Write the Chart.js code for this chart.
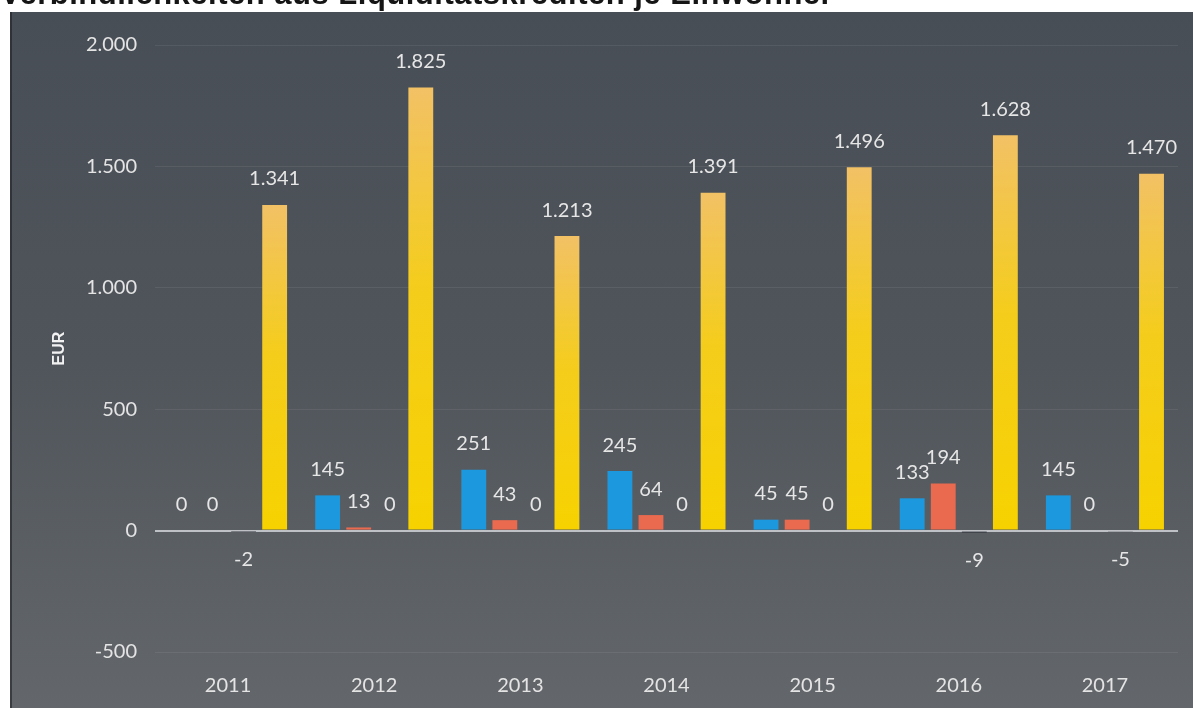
<!DOCTYPE html>
<html>
<head>
<meta charset="utf-8">
<script src="https://cdn.jsdelivr.net/npm/chart.js@4.4.1/dist/chart.umd.min.js"></script>
<style>
  html, body { margin: 0; padding: 0; background: #ffffff; overflow: hidden; }
  #wrap { position: relative; width: 1193px; height: 708px; }
  #title { position: absolute; left: 0px; top: -22px; font: bold 31px "Liberation Sans", Arial, sans-serif; line-height: 31px; letter-spacing: 0.5px; color: #151515; white-space: nowrap; z-index: 2; }
  canvas { position: absolute; left: 0; top: 0; }
</style>
</head>
<body>
<div id="wrap">
  <div id="title">Verbindlichkeiten aus Liquiditätskrediten je Einwohner</div>
  <canvas id="c" width="1193" height="708"></canvas>
</div>
<script>
const categories = ['2011', '2012', '2013', '2014', '2015', '2016', '2017'];
const blueValues = [0, 145, 251, 245, 45, 133, 145];
const redValues = [0, 13, 43, 64, 45, 194, 0];
const darkValues = [-2, 0, 0, 0, 0, -9, -5];
const yellowValues = [1341, 1825, 1213, 1391, 1496, 1628, 1470];
const yMin = -500;
const yMax = 2000;
const yStep = 500;
const yAxisTitle = 'EUR';

function fmt(v) {
  const s = Math.abs(v).toString().replace(/\B(?=(\d{3})+(?!\d))/g, '.');
  return (v < 0 ? '-' : '') + s;
}

function yellowGradient(ctx) {
  const chart = ctx.chart;
  const y = chart.scales && chart.scales.y;
  if (!y || ctx.dataIndex === undefined) return '#f5cf10';
  const v = yellowValues[ctx.dataIndex];
  const top = y.getPixelForValue(v);
  const base = y.getPixelForValue(0);
  if (!isFinite(top) || !isFinite(base) || base - top < 2) return '#f5cf10';
  const g = chart.ctx.createLinearGradient(0, top, 0, base);
  g.addColorStop(0, '#f2c165');
  g.addColorStop(0.45, '#f4cd1c');
  g.addColorStop(1, '#f7d200');
  return g;
}

const bgPlugin = {
  id: 'panelBg',
  beforeDraw(chart) {
    const ctx = chart.ctx;
    ctx.save();
    const g = ctx.createLinearGradient(0, 12, 0, 708);
    g.addColorStop(0, '#484e56');
    g.addColorStop(0.5, '#50555b');
    g.addColorStop(1, '#63676b');
    ctx.fillStyle = g;
    ctx.fillRect(10, 12, 1183, 696);
    ctx.fillStyle = 'rgba(30,32,36,0.6)';
    ctx.fillRect(10, 12, 2, 696);
    ctx.restore();
  }
};

const labelPlugin = {
  id: 'valueLabels',
  afterDatasetsDraw(chart) {
    const ctx = chart.ctx;
    ctx.save();
    ctx.font = '20px Lato, "Open Sans", sans-serif';
    ctx.fillStyle = '#e6e6e6';
    ctx.textAlign = 'center';
    ctx.textBaseline = 'middle';
    chart.data.datasets.forEach((ds, di) => {
      const meta = chart.getDatasetMeta(di);
      meta.data.forEach((el, i) => {
        const v = ds.data[i];
        const y = v < 0 ? el.y + 28 : el.y - 26;
        ctx.fillText(fmt(v), el.x, y);
      });
    });
    ctx.restore();
  }
};

new Chart(document.getElementById('c'), {
  type: 'bar',
  data: {
    labels: categories,
    datasets: [
      { label: 'Reihe 1', data: blueValues, backgroundColor: '#1c98de' },
      { label: 'Reihe 2', data: redValues, backgroundColor: '#e96a4f' },
      { label: 'Reihe 3', data: darkValues, backgroundColor: '#3a3e44' },
      { label: 'Reihe 4', data: yellowValues, backgroundColor: yellowGradient }
    ]
  },
  options: {
    responsive: false,
    animation: false,
    devicePixelRatio: 1,
    layout: { padding: { left: 0, right: 15, top: 45, bottom: 0 } },
    datasets: { bar: { categoryPercentage: 0.85, barPercentage: 0.8 } },
    plugins: { legend: { display: false }, tooltip: { enabled: false }, title: { display: false } },
    scales: {
      x: {
        grid: { display: false, drawTicks: false },
        border: { display: false },
        ticks: { color: '#e4e4e4', font: { family: 'Lato, "Open Sans", sans-serif', size: 20 }, padding: 22 },
        afterFit(s) { s.height = 56; }
      },
      y: {
        min: yMin,
        max: yMax,
        border: { display: false },
        grid: {
          drawTicks: false,
          color: (c) => c.tick && c.tick.value === 0 ? 'rgba(215,218,222,0.8)' : 'rgba(255,255,255,0.07)',
          lineWidth: (c) => c.tick && c.tick.value === 0 ? 2 : 1
        },
        ticks: {
          stepSize: yStep,
          color: '#e4e4e4',
          font: { family: 'Lato, "Open Sans", sans-serif', size: 20 },
          padding: 18,
          callback: (v) => fmt(v)
        },
        title: {
          display: true,
          text: yAxisTitle,
          color: '#f2f2f2',
          font: { family: '"Liberation Sans", Arial, sans-serif', size: 16, weight: 'bold' },
          padding: { top: 50, bottom: 0 }
        },
        afterFit(s) { s.width = 155; }
      }
    }
  },
  plugins: [bgPlugin, labelPlugin]
});
</script>
</body>
</html>
